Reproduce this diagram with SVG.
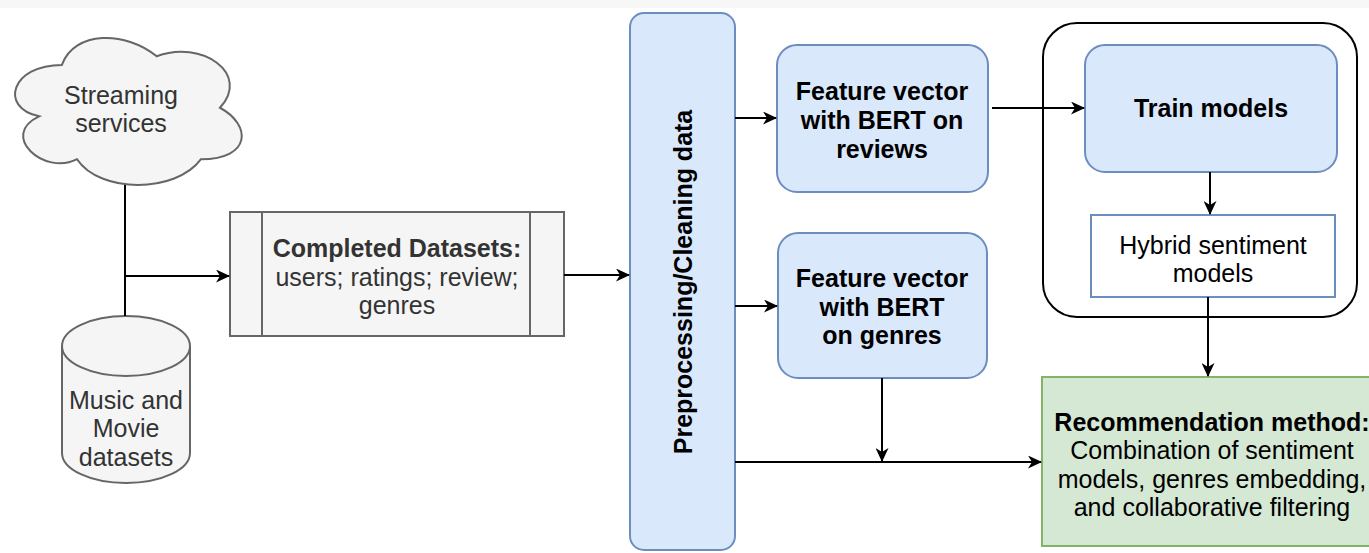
<svg xmlns="http://www.w3.org/2000/svg" width="1369" height="553" viewBox="0 0 1369 553">
<defs>
<marker id="arr" viewBox="0 0 14 13" refX="13" refY="6.5" markerWidth="14" markerHeight="13" markerUnits="userSpaceOnUse" orient="auto">
<path d="M0,0 L14,6.5 L0,13 L4,6.5 Z" fill="#000"/>
</marker>
<style>
text{font-family:"Liberation Sans",Arial,sans-serif;font-size:25px;text-anchor:middle;}
.b{font-weight:bold;fill:#000;}
.n{fill:#000;}
.g{fill:#333;}
.gray{fill:#f5f5f5;stroke:#666;stroke-width:2;}
.blue{fill:#dae8fc;stroke:#6c8ebf;stroke-width:2;}
.green{fill:#d5e8d4;stroke:#82b366;stroke-width:2;}
.white{fill:#fff;stroke:#6c8ebf;stroke-width:2;}
.edge{fill:none;stroke:#000;stroke-width:2;}
</style>
</defs>
<rect x="0" y="0" width="1369" height="553" fill="#fff"/>
<rect x="0" y="0" width="1369" height="8" fill="#f7f7f7"/>

<g id="container">
<rect x="1043" y="23" width="314" height="294" rx="34" fill="none" stroke="#000" stroke-width="2"/>
</g>

<g id="cloud">
<path class="gray" d="M61.85,64.875 C11.25,64.875 -1.4,107.75 39.08,116.3 C-1.4,135.2 44.14,176.35 77.03,159.2 C99.8,193.5 175.7,193.5 201,159.2 C251.6,159.2 251.6,124.9 219.975,107.75 C251.6,73.45 201,39.15 156.7,56.3 C125.1,30.6 74.5,30.6 61.85,64.875 Z"/>
<text class="g" x="121" y="104">Streaming</text>
<text class="g" x="121" y="132">services</text>
</g>

<g id="cylinder">
<path class="gray" d="M62,346 A64,30 0 0 1 190,346 V453 A64,30 0 0 1 62,453 Z"/>
<path fill="none" stroke="#666" stroke-width="2" d="M62,346 A64,30 0 0 0 190,346"/>
<text class="g" x="126" y="409">Music and</text>
<text class="g" x="126" y="437">Movie</text>
<text class="g" x="126" y="466">datasets</text>
</g>

<g id="completed">
<rect class="gray" x="230" y="212" width="334" height="124"/>
<line x1="262" y1="212" x2="262" y2="336" stroke="#666" stroke-width="2"/>
<line x1="530" y1="212" x2="530" y2="336" stroke="#666" stroke-width="2"/>
<text class="b" x="397" y="257" style="fill:#333">Completed Datasets:</text>
<text class="g" x="397" y="286">users; ratings; review;</text>
<text class="g" x="397" y="314">genres</text>
</g>

<g id="preprocessing">
<rect class="blue" x="630" y="13" width="105" height="537" rx="14"/>
<text class="b" x="0" y="0" transform="translate(692,282) rotate(-90)">Preprocessing/Cleaning data</text>
</g>

<g id="feature-reviews">
<rect class="blue" x="777" y="45" width="211" height="147" rx="20"/>
<text class="b" x="882" y="100">Feature vector</text>
<text class="b" x="882" y="129">with BERT on</text>
<text class="b" x="882" y="158">reviews</text>
</g>

<g id="feature-genres">
<rect class="blue" x="778" y="233" width="209" height="145" rx="20"/>
<text class="b" x="882" y="287">Feature vector</text>
<text class="b" x="882" y="316">with BERT</text>
<text class="b" x="882" y="344">on genres</text>
</g>

<g id="train">
<rect class="blue" x="1085" y="45" width="252" height="127" rx="20"/>
<text class="b" x="1211" y="117">Train models</text>
</g>

<g id="hybrid">
<rect class="white" x="1091" y="215" width="244" height="82"/>
<text class="n" x="1213" y="254">Hybrid sentiment</text>
<text class="n" x="1213" y="282">models</text>
</g>

<g id="recommendation">
<rect class="green" x="1042" y="377" width="345" height="169"/>
<text class="b" x="1212" y="431">Recommendation method:</text>
<text class="n" x="1212" y="459">Combination of sentiment</text>
<text class="n" x="1212" y="488">models, genres embedding,</text>
<text class="n" x="1212" y="516">and collaborative filtering</text>
</g>

<g id="connectors">
<path class="edge" d="M125,185 V316"/>
<path class="edge" d="M125,276 H229" marker-end="url(#arr)"/>
<path class="edge" d="M564,275 H629" marker-end="url(#arr)"/>
<path class="edge" d="M735,118 H776" marker-end="url(#arr)"/>
<path class="edge" d="M735,306 H777" marker-end="url(#arr)"/>
<path class="edge" d="M992,108 H1084" marker-end="url(#arr)"/>
<path class="edge" d="M1210,172 V214" marker-end="url(#arr)"/>
<path class="edge" d="M1208,297 V376" marker-end="url(#arr)"/>
<path class="edge" d="M882,378 V461" marker-end="url(#arr)"/>
<path class="edge" d="M735,462 H1041" marker-end="url(#arr)"/>
</g>
</svg>
